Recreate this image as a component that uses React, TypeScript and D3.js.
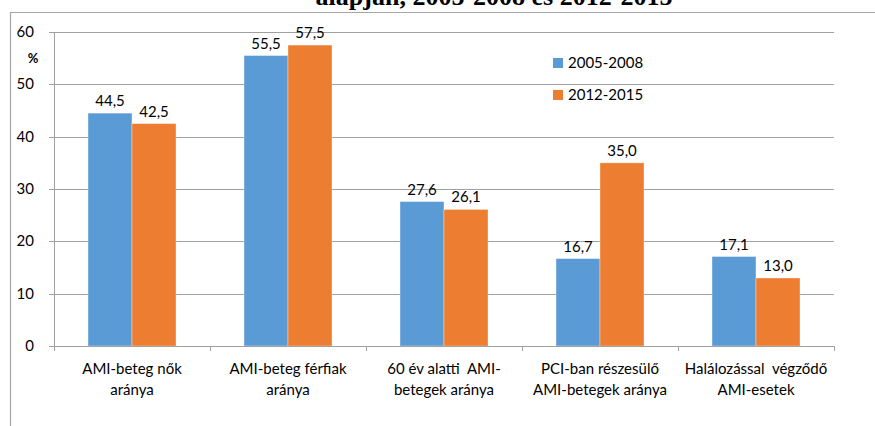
import React from "react";
import * as d3 from "d3";

const categories: string[][] = [
  ["AMI-beteg nők", "aránya"],
  ["AMI-beteg férfiak", "aránya"],
  ["60 év alatti  AMI-", "betegek aránya"],
  ["PCI-ban részesülő", "AMI-betegek aránya"],
  ["Halálozással  végződő", "AMI-esetek"],
];
const seriesNames = ["2005-2008", "2012-2015"];
const values2005 = [44.5, 55.5, 27.6, 16.7, 17.1];
const values2012 = [42.5, 57.5, 26.1, 35.0, 13.0];
const yTicks = [0, 10, 20, 30, 40, 50, 60];
const colors = ["#5B9BD5", "#ED7D31"];
const title = "alapján, 2005-2008 és 2012-2015";

const W = 875;
const H = 426;
const left = 54;
const right = 834;
const top = 32;
const bottom = 346;
const font = "Lato, 'Open Sans', sans-serif";
const fs = 15;

export default function App() {
  const x = d3
    .scaleBand<number>()
    .domain(categories.map((_, i) => i))
    .range([left, right])
    .paddingInner(0.436)
    .paddingOuter(0.218);
  const sub = d3.scaleBand<number>().domain([0, 1]).range([0, x.bandwidth()]);
  const y = d3.scaleLinear().domain([0, 60]).range([bottom, top]);
  const series = [values2005, values2012];
  const step = (right - left) / categories.length;
  const fmt = (v: number) => v.toFixed(1).replace(".", ",");

  return (
    <svg
      width={W}
      height={H}
      style={{ position: "absolute", left: 0, top: 0, background: "#fff", overflow: "hidden" }}
    >
      <rect x={0} y={0} width={W} height={H} fill="#fff" />
      <text
        x={494}
        y={5}
        textAnchor="middle"
        fontFamily="'Liberation Serif', serif"
        fontWeight="bold"
        fontSize={26}
        fill="#000"
      >
        {title}
      </text>
      <path
        d={`M10.5,${H} V12.5 H${W}`}
        fill="none"
        stroke="#a6a6a6"
        strokeWidth={1.2}
      />
      {/* gridlines */}
      {yTicks.map((t) => (
        <g key={t}>
          {t > 0 && (
            <line
              x1={left}
              x2={right}
              y1={Math.round(y(t)) + 0.5}
              y2={Math.round(y(t)) + 0.5}
              stroke="#a0a0a0"
              strokeWidth={1}
            />
          )}
          <line
            x1={left - 5}
            x2={left}
            y1={Math.round(y(t)) + 0.5}
            y2={Math.round(y(t)) + 0.5}
            stroke="#a0a0a0"
          />
          <text
            x={34}
            y={y(t) + 5}
            textAnchor="end"
            fontFamily={font}
            fontSize={fs}
            fill="#000"
          >
            {t}
          </text>
        </g>
      ))}
      <text
        x={33}
        y={63}
        textAnchor="middle"
        fontFamily={font}
        fontWeight="bold"
        fontSize={13}
        fill="#000"
      >
        %
      </text>
      {/* bars */}
      {categories.map((_, i) =>
        series.map((vals, s) => {
          const bx = (x(i) as number) + (sub(s) as number);
          const by = y(vals[i]);
          return (
            <g key={`${i}-${s}`}>
              <rect
                x={bx}
                y={by}
                width={sub.bandwidth()}
                height={bottom - by}
                fill={colors[s]}
                stroke="#ffffff"
                strokeOpacity={0.45}
                strokeWidth={0.8}
              />
              <text
                x={bx + sub.bandwidth() / 2}
                y={by - 7}
                textAnchor="middle"
                fontFamily={font}
                fontSize={fs}
                fill="#000"
              >
                {fmt(vals[i])}
              </text>
            </g>
          );
        })
      )}
      {/* axes */}
      <line x1={left + 0.5} x2={left + 0.5} y1={top} y2={bottom} stroke="#a0a0a0" />
      <line x1={left} x2={right} y1={bottom + 0.5} y2={bottom + 0.5} stroke="#a0a0a0" />
      {d3.range(categories.length + 1).map((k) => (
        <line
          key={k}
          x1={Math.round(left + k * step) + 0.5}
          x2={Math.round(left + k * step) + 0.5}
          y1={bottom}
          y2={bottom + 5}
          stroke="#a0a0a0"
        />
      ))}
      {categories.map((lines, i) => (
        <text
          key={i}
          textAnchor="middle"
          fontFamily={font}
          fontSize={fs}
          fill="#000"
          style={{ whiteSpace: "pre" }}
        >
          {lines.map((ln, j) => (
            <tspan key={j} x={left + step * (i + 0.5)} y={374 + j * 21}>
              {ln}
            </tspan>
          ))}
        </text>
      ))}
      {/* legend */}
      {seriesNames.map((n, s) => (
        <g key={n}>
          <rect x={553} y={58 + s * 32} width={10} height={10} fill={colors[s]} />
          <text
            x={568}
            y={68 + s * 32}
            fontFamily={font}
            fontSize={fs}
            fill="#000"
          >
            {n}
          </text>
        </g>
      ))}
    </svg>
  );
}
